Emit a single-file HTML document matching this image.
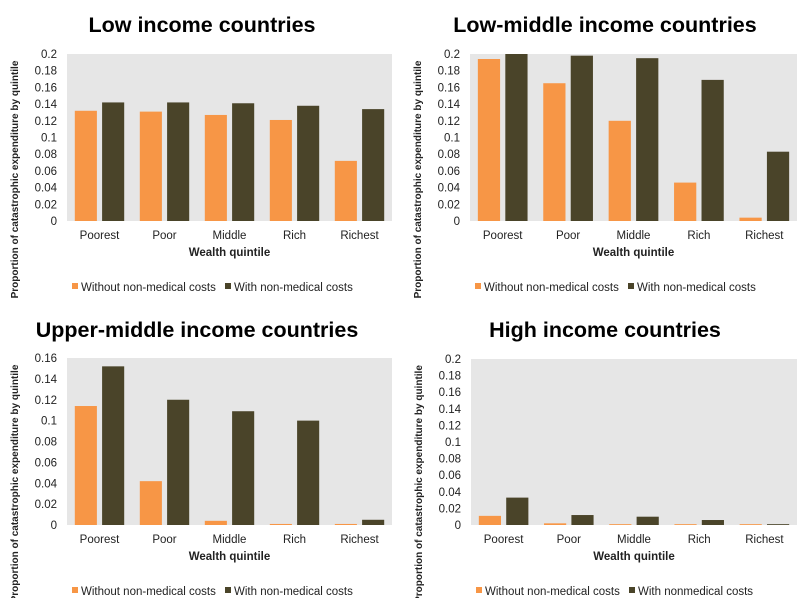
<!DOCTYPE html>
<html><head><meta charset="utf-8"><style>
body{margin:0;background:#fff;width:800px;height:598px;overflow:hidden;font-family:"Liberation Sans",sans-serif}
svg{position:absolute;left:0;top:0}
</style></head><body>
<svg id="s" width="800" height="598" xmlns="http://www.w3.org/2000/svg"></svg>
<script>
const categories=["Poorest","Poor","Middle","Rich","Richest"];
const lowWithout=[0.132,0.131,0.127,0.121,0.072];
const lowWith=[0.142,0.142,0.141,0.138,0.134];
const lmWithout=[0.194,0.165,0.120,0.046,0.004];
const lmWith=[0.200,0.198,0.195,0.169,0.083];
const umWithout=[0.114,0.042,0.004,0.001,0.001];
const umWith=[0.152,0.120,0.109,0.100,0.005];
const hiWithout=[0.011,0.002,0.001,0.001,0.001];
const hiWith=[0.033,0.012,0.010,0.006,0.001];
const ticks20=["0","0.02","0.04","0.06","0.08","0.1","0.12","0.14","0.16","0.18","0.2"];
const ticks16=["0","0.02","0.04","0.06","0.08","0.1","0.12","0.14","0.16"];
const panels=[
 {name:"low-income",title:"Low income countries",tx:202,ty:25,x0:67,x1:392,yTop:54,yBot:221,max:0.2,ticks:ticks20,a:lowWithout,b:lowWith,leg2:"With non-medical costs"},
 {name:"low-middle-income",title:"Low-middle income countries",tx:605,ty:25,x0:470,x1:797,yTop:54,yBot:221,max:0.2,ticks:ticks20,a:lmWithout,b:lmWith,leg2:"With non-medical costs"},
 {name:"upper-middle-income",title:"Upper-middle income countries",tx:197,ty:330,x0:67,x1:392,yTop:358,yBot:525,max:0.16,ticks:ticks16,a:umWithout,b:umWith,leg2:"With non-medical costs"},
 {name:"high-income",title:"High income countries",tx:605,ty:330,x0:471,x1:797,yTop:359,yBot:525,max:0.2,ticks:ticks20,a:hiWithout,b:hiWith,leg2:"With nonmedical costs"}
];
const NS="http://www.w3.org/2000/svg";
const svg=document.getElementById('s');
function el(t,attrs,parent,txt){const e=document.createElementNS(NS,t);for(const k in attrs)e.setAttribute(k,attrs[k]);if(txt!==undefined)e.textContent=txt;parent.appendChild(e);return e;}
panels.forEach(p=>{
 const g=el('g',{},svg);
 
 
 const t=el('text',{x:p.tx,y:p.ty+7,'text-anchor':'middle','font-size':21.5,'font-weight':'bold',fill:'#000'},g,p.title);
 
 
 const bg=el('rect',{x:p.x0,y:p.yTop,width:p.x1-p.x0,height:p.yBot-p.yTop,fill:'#e6e6e6'},g);
 
 
 const y=v=>p.yBot-(v/p.max)*(p.yBot-p.yTop);
 const n=p.ticks.length;
 p.ticks.forEach((lab,i)=>{
  const v=p.max*i/(n-1);
  const tl=el('text',{x:p.x0-10,y:y(v)+4,'text-anchor':'end','font-size':11.5,fill:'#222'},g,lab);
  
  
 });
 const cw=(p.x1-p.x0)/categories.length;
 const bw=cw*0.34, gap=cw*0.08;
 categories.forEach((c,i)=>{
  const cx=p.x0+cw*(i+0.5);
  const r1=el('rect',{x:cx-gap/2-bw,y:y(p.a[i]),width:bw,height:p.yBot-y(p.a[i]),fill:'#f79646'},g);
  
  
  const r2=el('rect',{x:cx+gap/2,y:y(p.b[i]),width:bw,height:p.yBot-y(p.b[i]),fill:'#4a4429'},g);
  
  
  const cl=el('text',{x:cx,y:p.yBot+18,'text-anchor':'middle','font-size':11.5,fill:'#222'},g,c);
  
  
 });
 const mid=(p.x0+p.x1)/2;
 const xt=el('text',{x:mid,y:p.yBot+35,'text-anchor':'middle','font-size':11.5,'font-weight':'bold',fill:'#222'},g,'Wealth quintile');
 
 
 const ax=p.x0-49, ay=(p.yTop+p.yBot)/2+42;
 const yt=el('text',{x:ax,y:ay,'text-anchor':'middle','font-size':10,'font-weight':'bold',fill:'#222',transform:`rotate(-90 ${ax} ${ay})`},g,'Proportion of catastrophic expenditure by quintile');
 
 
 const ly=p.yBot+70;
 const l1=el('rect',{x:p.x0+5,y:ly-8,width:6,height:6,fill:'#f79646'},g);
 
 
 const lt1=el('text',{x:p.x0+14,y:ly,'font-size':11.5,fill:'#222'},g,'Without non-medical costs');
 
 
 const l2=el('rect',{x:p.x0+158,y:ly-8,width:6,height:6,fill:'#4a4429'},g);
 
 
 const lt2=el('text',{x:p.x0+167,y:ly,'font-size':11.5,fill:'#222'},g,p.leg2);
 
 
});
</script>
</body></html>
